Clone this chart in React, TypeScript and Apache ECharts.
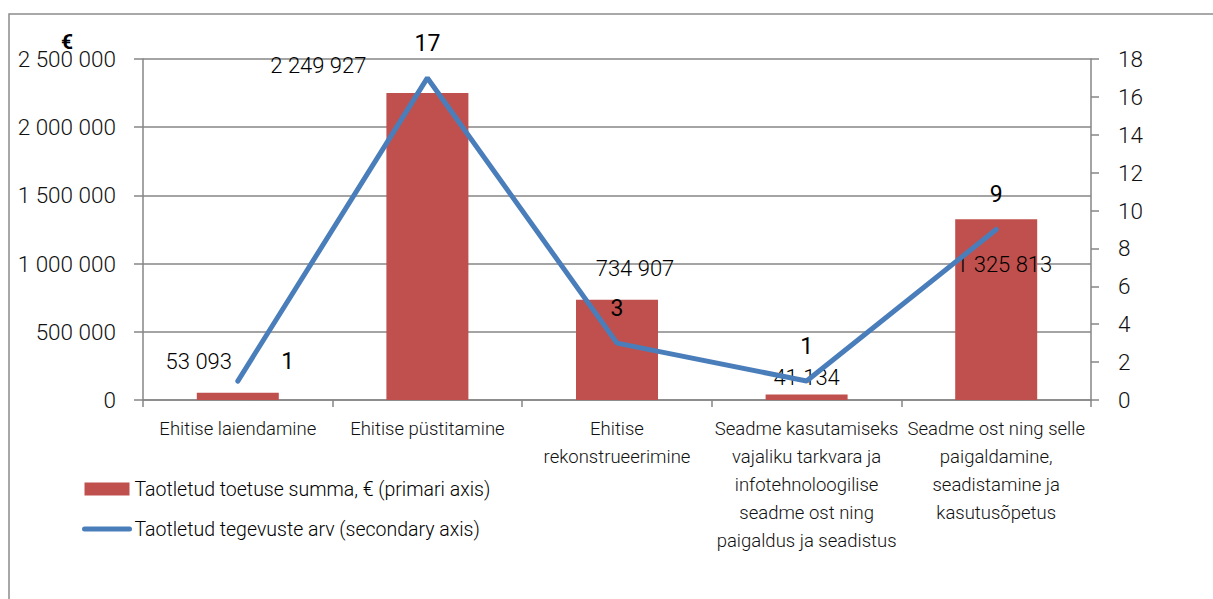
import React, { useEffect, useRef } from "react";
import * as echarts from "echarts";

const categories = [
  "Ehitise laiendamine",
  "Ehitise püstitamine",
  "Ehitise\nrekonstrueerimine",
  "Seadme kasutamiseks\nvajaliku tarkvara ja\ninfotehnoloogilise\nseadme ost ning\npaigaldus ja seadistus",
  "Seadme ost ning selle\npaigaldamine,\nseadistamine ja\nkasutusõpetus",
];
const amounts = [53093, 2249927, 734907, 41134, 1325813];
const counts = [1, 17, 3, 1, 9];
const barLabelOffsets = [
  [-39, -15],
  [-109, -12],
  [18, -15],
  [0, -1],
  [8, 61],
];
const lineLabelOffsets = [
  [50, -3],
  [0, -17],
  [0, -18],
  [0, -18],
  [0, -18],
];

const FONT = "Roboto, 'Noto Sans', sans-serif";

const fmt = (v: number) => String(Math.round(v)).replace(/\B(?=(\d{3})+(?!\d))/g, " ");

export default function App() {
  const ref = useRef<HTMLDivElement>(null);
  useEffect(() => {
    if (!ref.current) return;
    const chart = echarts.init(ref.current, undefined, { renderer: "svg" });
    const axisColor = "#868686";
    chart.setOption({
      animation: false,
      textStyle: { fontFamily: FONT },
      graphic: [
        {
          type: "rect",
          shape: { x: 9, y: 14, width: 1400, height: 800 },
          style: { fill: "none", stroke: "#8c8c8c", lineWidth: 1.5 },
          z: -1,
        },
        {
          type: "text",
          x: 61,
          y: 31,
          style: { text: "€", font: `bold 21px ${FONT}`, fill: "#000" },
        },
      ],
      grid: { left: 143, right: 122, top: 59, bottom: 199 },
      legend: {
        orient: "vertical",
        left: 77,
        top: 474,
        itemWidth: 45,
        itemHeight: 13,
        itemGap: 20,
        textStyle: { fontFamily: FONT, fontSize: 19.5, fontWeight: 300, color: "#000" },
        data: [
          { name: "Taotletud toetuse summa, € (primari axis)", icon: "rect" },
          {
            name: "Taotletud tegevuste arv (secondary axis)",
            itemStyle: { opacity: 0 },
            lineStyle: { width: 5, cap: "round", color: "#4a7ebb" },
          },
        ],
      },
      xAxis: {
        type: "category",
        data: categories,
        axisLine: { lineStyle: { color: axisColor, width: 1.5 } },
        axisTick: { show: true, length: 7, lineStyle: { color: axisColor, width: 1.5 } },
        axisLabel: {
          interval: 0,
          margin: 15,
          fontFamily: FONT,
          fontSize: 18.5,
          fontWeight: 300,
          lineHeight: 28,
          color: "#111",
        },
      },
      yAxis: [
        {
          type: "value",
          min: 0,
          max: 2500000,
          interval: 500000,
          axisLine: { show: true, lineStyle: { color: axisColor, width: 1.5 } },
          axisTick: { show: true, length: 9, lineStyle: { color: axisColor, width: 1.5 } },
          splitLine: { lineStyle: { color: axisColor, width: 1.5 } },
          axisLabel: {
            margin: 27,
            fontFamily: FONT,
            fontSize: 22.5,
            fontWeight: 300,
            color: "#111",
            formatter: (v: number) => fmt(v),
          },
        },
        {
          type: "value",
          min: 0,
          max: 18,
          interval: 2,
          position: "right",
          axisLine: { show: true, lineStyle: { color: axisColor, width: 1.5 } },
          axisTick: { show: true, length: 8, lineStyle: { color: axisColor, width: 1.5 } },
          splitLine: { show: false },
          axisLabel: { margin: 27, fontFamily: FONT, fontSize: 22.5, fontWeight: 300, color: "#111" },
        },
      ],
      series: [
        {
          name: "Taotletud toetuse summa, € (primari axis)",
          type: "bar",
          yAxisIndex: 0,
          barWidth: 82,
          itemStyle: { color: "#c0504d" },
          data: amounts.map((v, i) => ({
            value: v,
            label: {
              show: true,
              position: "top",
              offset: barLabelOffsets[i],
              fontFamily: FONT,
              fontSize: 22,
              fontWeight: 300,
              color: "#000",
              formatter: () => fmt(v),
            },
          })),
          z: 2,
        },
        {
          name: "Taotletud tegevuste arv (secondary axis)",
          type: "line",
          yAxisIndex: 1,
          symbol: "circle",
          symbolSize: 1,
          showSymbol: true,
          lineStyle: { color: "#4a7ebb", width: 5, cap: "round" },
          itemStyle: { color: "#4a7ebb" },
          data: counts.map((v, i) => ({
            value: v,
            label: {
              show: true,
              position: "top",
              offset: lineLabelOffsets[i],
              fontFamily: FONT,
              fontSize: 23,
              fontWeight: 400,
              color: "#000",
            },
          })),
          z: 3,
        },
      ],
    });
    return () => chart.dispose();
  }, []);
  return (
    <div
      ref={ref}
      style={{ position: "fixed", left: 0, top: 0, width: 1213, height: 599, background: "#fff" }}
    />
  );
}
